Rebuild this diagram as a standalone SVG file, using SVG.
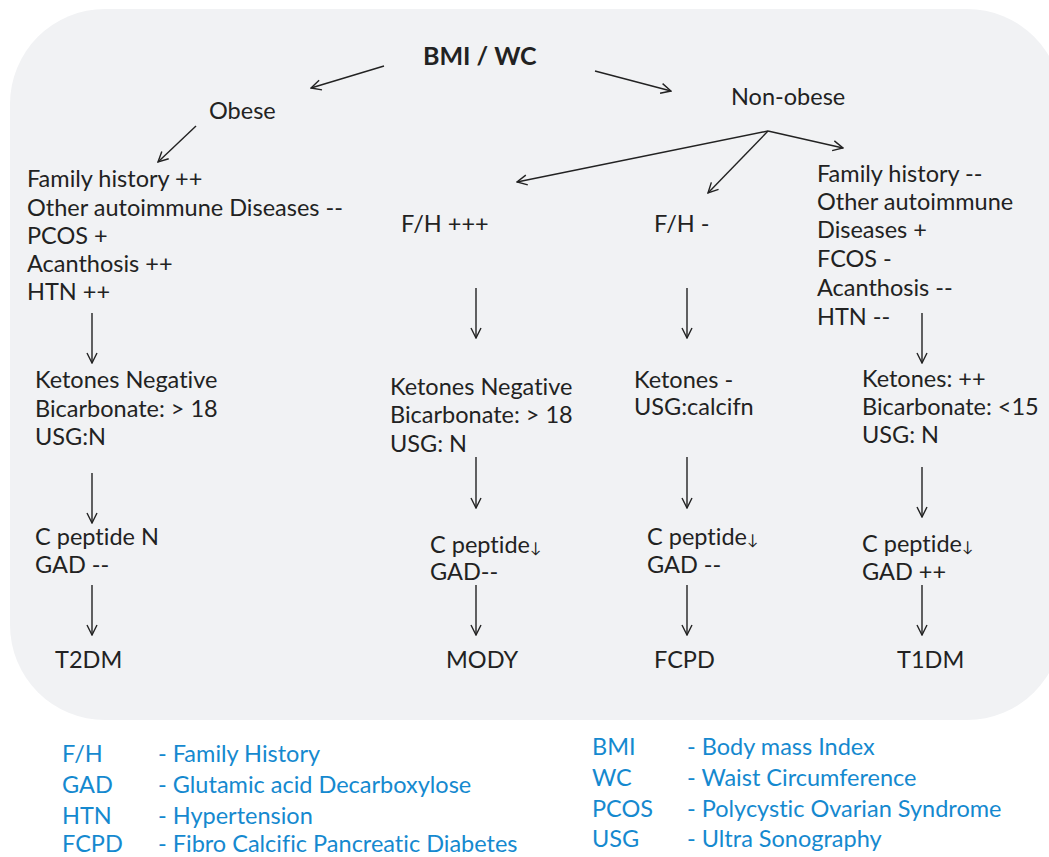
<svg xmlns="http://www.w3.org/2000/svg" width="1049" height="857" viewBox="0 0 1049 857">
<style>
.t{font-family:Lato,"Open Sans","Liberation Sans",sans-serif;font-size:23.5px;fill:#222;font-variant-ligatures:none}
.b{font-weight:bold;font-size:25px}
.l{font-family:Lato,"Open Sans","Liberation Sans",sans-serif;font-size:23.5px;fill:#1589cf;font-variant-ligatures:none}
.s{font-size:15px}
.c{stroke:#222;stroke-width:1.4;fill:none;marker-end:url(#ah)}
</style>
<defs>
<marker id="ah" viewBox="0 0 12 12" refX="11" refY="6" markerWidth="12" markerHeight="12" markerUnits="userSpaceOnUse" orient="auto">
<path d="M1,1 L11,6 L1,11" fill="none" stroke="#222" stroke-width="1.4"/>
</marker>
</defs>
<rect x="10" y="9" width="1052" height="711" rx="95" ry="95" fill="#f1f2f4"/>
<g id="connectors">
<line class="c" x1="384" y1="66" x2="311" y2="88"/>
<line class="c" x1="595" y1="71" x2="671" y2="91"/>
<line class="c" x1="196" y1="126" x2="158" y2="162"/>
<line class="c" x1="768" y1="131" x2="517" y2="182"/>
<line class="c" x1="768" y1="131" x2="708" y2="193"/>
<line class="c" x1="768" y1="131" x2="843" y2="148"/>
<line class="c" x1="92" y1="313" x2="92" y2="363"/>
<line class="c" x1="92" y1="473" x2="92" y2="523"/>
<line class="c" x1="92" y1="585" x2="92" y2="635"/>
<line class="c" x1="476" y1="288" x2="476" y2="338"/>
<line class="c" x1="476" y1="457" x2="476" y2="508"/>
<line class="c" x1="476" y1="585" x2="476" y2="635"/>
<line class="c" x1="687" y1="288" x2="687" y2="338"/>
<line class="c" x1="687" y1="457" x2="687" y2="508"/>
<line class="c" x1="687" y1="585" x2="687" y2="635"/>
<line class="c" x1="922" y1="313" x2="922" y2="363"/>
<line class="c" x1="922" y1="467" x2="922" y2="517"/>
<line class="c" x1="922" y1="585" x2="922" y2="635"/>
</g>
<g id="bmi"><text class="t b" x="423" y="65">BMI / WC</text></g>
<g id="obese"><text class="t" x="209" y="119">Obese</text></g>
<g id="nonobese"><text class="t" x="731" y="105">Non-obese</text></g>
<g id="obese-criteria">
<text class="t" x="27" y="187">Family history ++</text>
<text class="t" x="27" y="216">Other autoimmune Diseases --</text>
<text class="t" x="27" y="244">PCOS +</text>
<text class="t" x="27" y="272">Acanthosis ++</text>
<text class="t" x="27" y="300">HTN ++</text>
</g>
<g id="fh-plus"><text class="t" x="401" y="232">F/H +++</text></g>
<g id="fh-minus"><text class="t" x="654" y="232">F/H -</text></g>
<g id="t1-criteria">
<text class="t" x="817" y="182">Family history --</text>
<text class="t" x="817" y="210">Other autoimmune</text>
<text class="t" x="817" y="238">Diseases +</text>
<text class="t" x="817" y="267">FCOS -</text>
<text class="t" x="817" y="296">Acanthosis --</text>
<text class="t" x="817" y="325">HTN --</text>
</g>
<g id="t2-lab">
<text class="t" x="35" y="388">Ketones Negative</text>
<text class="t" x="35" y="417">Bicarbonate: &gt; 18</text>
<text class="t" x="35" y="445">USG:N</text>
</g>
<g id="mody-lab">
<text class="t" x="390" y="395">Ketones Negative</text>
<text class="t" x="390" y="423">Bicarbonate: &gt; 18</text>
<text class="t" x="390" y="452">USG: N</text>
</g>
<g id="fcpd-lab">
<text class="t" x="634" y="388">Ketones -</text>
<text class="t" x="634" y="415">USG:calcifn</text>
</g>
<g id="t1-lab">
<text class="t" x="862" y="387">Ketones: ++</text>
<text class="t" x="862" y="415">Bicarbonate: &lt;15</text>
<text class="t" x="862" y="443">USG: N</text>
</g>
<g id="t2-pep">
<text class="t" x="35" y="545">C peptide N</text>
<text class="t" x="35" y="573">GAD --</text>
</g>
<g id="mody-pep">
<text class="t" x="430" y="553">C peptide<tspan class="s">↓</tspan></text>
<text class="t" x="430" y="580">GAD--</text>
</g>
<g id="fcpd-pep">
<text class="t" x="647" y="545">C peptide<tspan class="s">↓</tspan></text>
<text class="t" x="647" y="573">GAD --</text>
</g>
<g id="t1-pep">
<text class="t" x="862" y="552">C peptide<tspan class="s">↓</tspan></text>
<text class="t" x="862" y="580">GAD ++</text>
</g>
<g id="t2dm"><text class="t" x="55" y="668">T2DM</text></g>
<g id="mody"><text class="t" x="446" y="668">MODY</text></g>
<g id="fcpd"><text class="t" x="654" y="668">FCPD</text></g>
<g id="t1dm"><text class="t" x="897" y="668">T1DM</text></g>
<g id="legend">
<text class="l" x="62" y="762">F/H</text><text class="l" x="158" y="762">- Family History</text>
<text class="l" x="62" y="793">GAD</text><text class="l" x="158" y="793">- Glutamic acid Decarboxylose</text>
<text class="l" x="62" y="824">HTN</text><text class="l" x="158" y="824">- Hypertension</text>
<text class="l" x="62" y="852">FCPD</text><text class="l" x="158" y="852">- Fibro Calcific Pancreatic Diabetes</text>
<text class="l" x="592" y="755">BMI</text><text class="l" x="687" y="755">- Body mass Index</text>
<text class="l" x="592" y="786">WC</text><text class="l" x="687" y="786">- Waist Circumference</text>
<text class="l" x="592" y="817">PCOS</text><text class="l" x="687" y="817">- Polycystic Ovarian Syndrome</text>
<text class="l" x="592" y="847">USG</text><text class="l" x="687" y="847">- Ultra Sonography</text>
</g>
</svg>
